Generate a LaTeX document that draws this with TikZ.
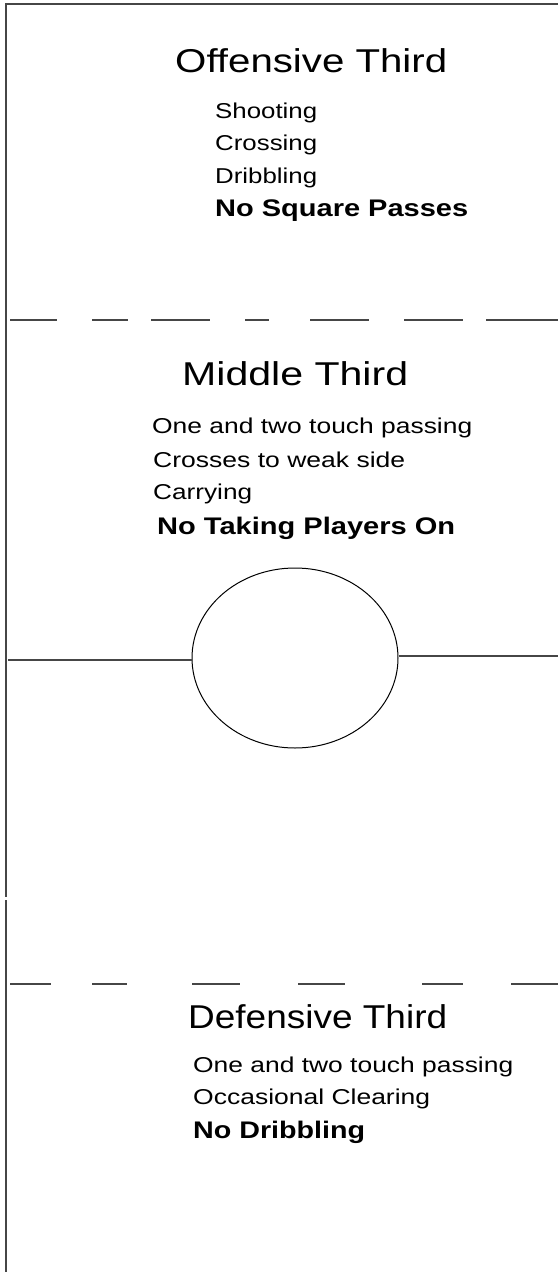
\documentclass[tikz,border=0pt]{standalone}
\usepackage{fontspec}
\setmainfont{Liberation Sans}
\usepackage{graphicx}
\usetikzlibrary{shapes.geometric}
\newcommand\fitw[2]{\resizebox{#1}{\height}{#2}}
\definecolor{linegray}{RGB}{70,70,70}
\tikzset{
  title/.style={font=\fontsize{33}{38}\selectfont, anchor=base west, inner sep=0pt},
  item/.style={font=\fontsize{21.5}{25}\selectfont, anchor=base west, inner sep=0pt},
  bitem/.style={font=\fontsize{24}{28}\selectfont\bfseries, anchor=base west, inner sep=0pt},
  fieldline/.style={draw=linegray, line width=1.3pt},
  dashseg/.style={draw=linegray, line width=1.3pt}
}
\begin{document}
\begin{tikzpicture}[x=1pt,y=-1pt]
\useasboundingbox (0,0) rectangle (558,1274);
% border
\coordinate (tl) at (6,4);
\coordinate (tr) at (558,4);
\coordinate (gapa) at (6,897);
\coordinate (gapb) at (6,900);
\coordinate (bl) at (6,1272);
\draw[fieldline] (tr) -- (tl) -- (gapa);
\draw[fieldline] (gapb) -- (bl);
% offensive third
\node[title] (ot) at (175,72) {\fitw{272pt}{Offensive Third}};
\node[item] (o1) at (215,118) {\fitw{102pt}{Shooting}};
\node[item] (o2) at (215,150) {\fitw{102pt}{Crossing}};
\node[item] (o3) at (215,183) {\fitw{102pt}{Dribbling}};
\node[bitem] (o4) at (215,216) {\fitw{253pt}{No Square Passes}};
% first dashed line
\foreach \a/\b in {10/57, 92/128, 151/210, 245/269, 310/369, 404/463, 486/558}{
  \draw[dashseg] (\a,320) -- (\b,320);
}
% middle third
\node[title] (mt) at (182,385) {\fitw{226pt}{Middle Third}};
\node[item] (m1) at (152,433) {\fitw{320pt}{One and two touch passing}};
\node[item] (m2) at (153,467) {\fitw{252pt}{Crosses to weak side}};
\node[item] (m3) at (153,499) {\fitw{99pt}{Carrying}};
\node[bitem] (m4) at (157,534) {\fitw{298pt}{No Taking Players On}};
% centre circle and halfway line
\node[draw=black, line width=1pt, ellipse, minimum width=206pt, minimum height=180pt, inner sep=0pt] (circ) at (295,658) {};
\coordinate (hl) at (8,660);
\coordinate (hr) at (558,656);
\draw[fieldline] (hl) -- (circ.west |- hl);
\draw[fieldline] (circ.east |- hr) -- (hr);
% second dashed line
\foreach \a/\b in {10/51, 92/127, 192/240, 298/345, 422/463, 511/558}{
  \draw[dashseg] (\a,984) -- (\b,984);
}
% defensive third
\node[title] (dt) at (188,1028) {\fitw{259pt}{Defensive Third}};
\node[item] (d1) at (193,1072) {\fitw{320pt}{One and two touch passing}};
\node[item] (d2) at (193,1104) {\fitw{237pt}{Occasional Clearing}};
\node[bitem] (d3) at (193,1138) {\fitw{172pt}{No Dribbling}};
\end{tikzpicture}
\end{document}
